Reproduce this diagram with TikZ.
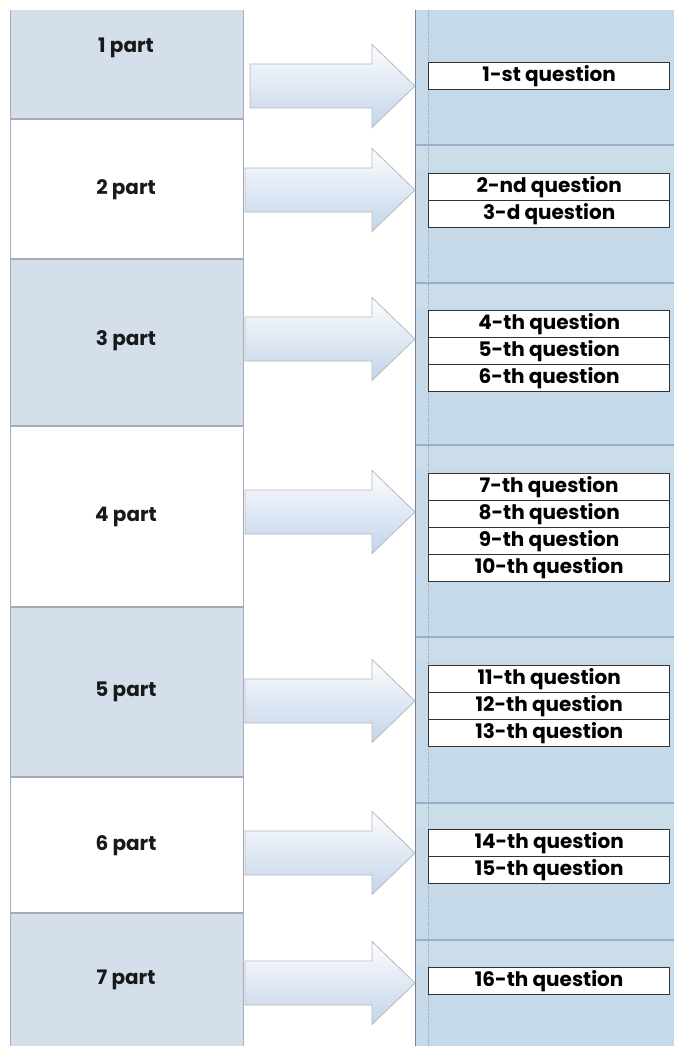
\documentclass[tikz,border=0pt]{standalone}
\usepackage{fontspec}
\setmainfont{Poppins}
\definecolor{partblue}{RGB}{213,223,236}
\definecolor{partline}{RGB}{165,172,184}
\definecolor{qback}{RGB}{198,217,232}
\definecolor{qline}{RGB}{150,175,202}
\definecolor{edgeblue}{RGB}{112,132,160}
\definecolor{arrowblue}{RGB}{196,212,234}
\tikzset{
  part/.style={font=\bfseries\fontsize{20}{20}\selectfont, text=black!90},
  question/.style={draw=black!80, line width=1.4pt, fill=white, anchor=north west,
    minimum width=241pt, minimum height=27pt, inner sep=0pt,
    font=\bfseries\fontsize{20}{20}\selectfont},
  bigarrow/.style={draw=gray!55, line width=0.8pt, top color=white!95!arrowblue, bottom color=arrowblue},
}
\begin{document}
\begin{tikzpicture}[x=1pt,y=-1pt]
  \useasboundingbox (0,0) rectangle (674,1046);
  \fill[white] (0,0) rectangle (674,1046);

  % left column
  \foreach[count=\i] \t/\b/\c/\y in {10/119/partblue/48, 119/259/white/190, 259/426/partblue/341,
      426/607/white/517, 607/777/partblue/692, 777/913/white/846, 913/1046/partblue/980} {
    \fill[\c] (10,\t) rectangle (243,\b);
    \ifnum\i>1 \draw[partline, line width=1.5pt] (10,\t) -- (243,\t); \fi
    \node[part] (part\i) at (126,\y) {\i\ part};
  }
  \draw[partline, line width=1pt] (10,10) -- (10,1046);
  \draw[partline, line width=0.8pt] (243,10) -- (243,1046);

  % right column
  \fill[qback] (415,10) rectangle (674,1046);
  \foreach \y in {145,283,445,637,803,940} {
    \draw[qline, line width=1.2pt] (415,\y) -- (674,\y);
    \fill[white, opacity=0.12] (415,\y+1) rectangle (674,\y+25);
  }
  \draw[edgeblue, line width=1pt] (415,10) -- (415,1046);
  \draw[edgeblue!70, line width=0.8pt, densely dotted] (428,10) -- (428,1046);

  % arrows
  \foreach[count=\i] \x/\y in {250/86, 245/190, 245/339, 245/512, 245/701, 245/853, 245/983} {
    \draw[bigarrow] (\x,\y-22) -- (372,\y-22) -- (372,\y-41.5) -- (415,\y)
      -- (372,\y+41.5) -- (372,\y+22) -- (\x,\y+22) -- cycle;
  }

  % questions
  \foreach \n/\y/\s in {1/62/st, 2/173/nd, 3/200/d, 4/310/th, 5/337/th, 6/364/th,
      7/473/th, 8/500/th, 9/527/th, 10/554/th, 11/665/th, 12/692/th, 13/719/th,
      14/829/th, 15/856/th, 16/967/th} {
    \node[question] (q\n) at (428,\y) {\n-\s\ question};
  }
\end{tikzpicture}
\end{document}
